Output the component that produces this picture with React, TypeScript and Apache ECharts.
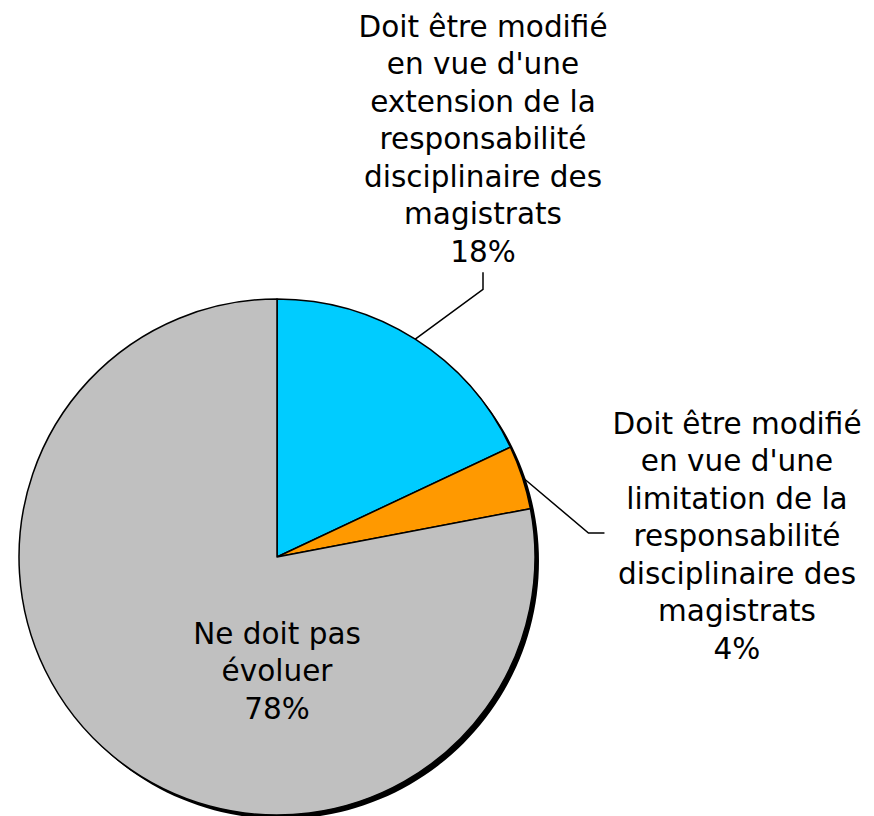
import React, { useEffect, useRef } from "react";
import * as echarts from "echarts";

const categories = [
  "Doit être modifié\nen vue d'une\nextension de la\nresponsabilité\ndisciplinaire des\nmagistrats",
  "Doit être modifié\nen vue d'une\nlimitation de la\nresponsabilité\ndisciplinaire des\nmagistrats",
  "Ne doit pas\névoluer",
];
const values = [18, 4, 78];
const colors = ["#00CCFF", "#FF9900", "#C0C0C0"];
const labelPositions = [
  [483, 139],
  [737, 536],
  [277, 671],
];

export default function App() {
  const ref = useRef<HTMLDivElement>(null);
  useEffect(() => {
    document.body.style.margin = "0";
    const chart = echarts.init(ref.current!, null, { renderer: "svg" });
    const font = "DejaVu Sans";
    chart.setOption({
      animation: false,
      backgroundColor: "#ffffff",
      series: [
        {
          type: "pie",
          silent: true,
          center: [281, 561],
          radius: 258,
          startAngle: 90,
          label: { show: false },
          labelLine: { show: false },
          itemStyle: { color: "#000000" },
          data: [{ value: 1, name: "shadow" }],
          z: 1,
        },
        {
          type: "pie",
          center: [277, 557],
          radius: 258,
          startAngle: 90,
          clockwise: true,
          z: 2,
          itemStyle: { borderColor: "#000000", borderWidth: 1.5 },
          label: {
            show: true,
            formatter: (p: any) => `${p.name}\n${p.value}%`,
            fontFamily: font,
            fontSize: 29.5,
            lineHeight: 37.5,
            color: "#000000",
            align: "center",
            overflow: "none",
          },
          labelLine: { show: true, lineStyle: { color: "#000000", width: 1.5 } },
          labelLayout: (params: any) => {
            const i = params.dataIndex;
            const [x, y] = labelPositions[i];
            const w = params.labelRect.width;
            const h = params.labelRect.height;
            const p0 = params.labelLinePoints ? params.labelLinePoints[0] : [x, y];
            let pts: number[][] | undefined;
            if (i === 0) {
              const b = y + h / 2;
              pts = [p0, [x, b + 19], [x, b + 2]];
            } else if (i === 1) {
              const l = x - w / 2;
              pts = [p0, [l - 24, y - 3], [l - 8, y - 3]];
            }
            return {
              x,
              y,
              align: "center",
              verticalAlign: "middle",
              labelLinePoints: pts,
            };
          },
          data: categories.map((name, i) => ({
            name,
            value: values[i],
            itemStyle: { color: colors[i] },
            labelLine: { show: i !== 2 },
          })),
        },
      ],
    });
    return () => chart.dispose();
  }, []);
  return <div ref={ref} style={{ position: "absolute", left: 0, top: 0, width: 874, height: 816 }} />;
}
